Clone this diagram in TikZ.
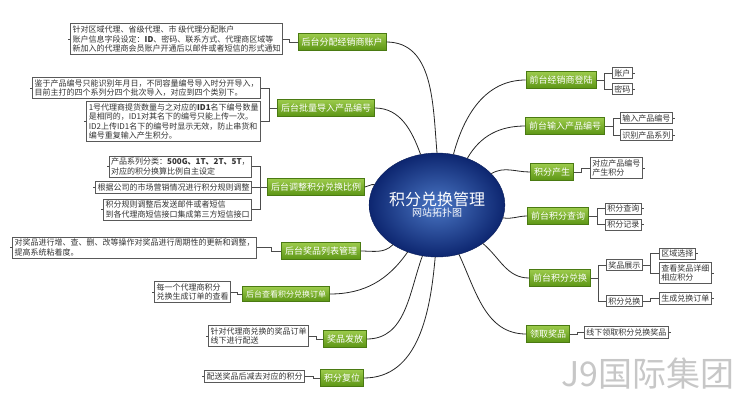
\documentclass[tikz,border=0pt]{standalone}
\usepackage{fontspec}
\setmainfont{Noto Sans CJK SC}
\usetikzlibrary{shapes.geometric}

\definecolor{leafhi}{HTML}{9CCB4C}
\definecolor{leaflo}{HTML}{5C9514}
\definecolor{leafrim}{HTML}{4A7A12}
\definecolor{hubin}{HTML}{4A76C4}
\definecolor{hubout}{HTML}{0D2670}

\tikzset{
  hub/.style={ellipse,minimum width=120,minimum height=104,inner sep=0,
    inner color=hubin,outer color=hubout,draw=hubout!80!black,text=white,align=center},
  topic/.style={draw=leafrim,line width=0.6pt,top color=leafhi,bottom color=leaflo,
    text=white,font=\fontsize{9}{10}\selectfont,inner sep=3.5pt,minimum height=17},
  note/.style={draw=black!65,line width=0.6pt,fill=white,text=black!80,align=left,
    font=\fontsize{8}{9.5}\selectfont,inner sep=2pt},
  link/.style={black!85,line width=0.8pt},
  tie/.style={black!70,line width=0.5pt}
}

\begin{document}
\begin{tikzpicture}[x=1pt,y=-1pt]
\useasboundingbox (0,0) rectangle (734,408);

% centre
\node[hub] (hub) at (437,205) {{\fontsize{16}{18}\selectfont 积分兑换管理}\\[-1pt]{\fontsize{10}{11}\selectfont 网站拓扑图}};

% left branches
\node[topic] (t1) at (342,42) {后台分配经销商账户};
\node[topic] (t2) at (326,108) {后台批量导入产品编号};
\node[topic] (t3) at (316,187) {后台调整积分兑换比例};
\node[topic] (t4) at (321,251) {后台奖品列表管理};
\node[topic,font=\fontsize{8}{9}\selectfont,minimum height=14] (t5) at (286,294) {后台查看积分兑换订单};
\node[topic] (t6) at (345,339) {奖品发放};
\node[topic] (t7) at (342,378) {积分复位};

% right branches
\node[topic] (t8) at (561,80) {前台经销商登陆};
\node[topic] (t9) at (565,126) {前台输入产品编号};
\node[topic] (t10) at (552,172) {积分产生};
\node[topic] (t11) at (558,216) {前台积分查询};
\node[topic] (t12) at (560,278) {前台积分兑换};
\node[topic] (t13) at (548,334) {领取奖品};

% left notes
\node[note,anchor=east] (n1) at (283,39) {针对区域代理、省级代理、市 级代理分配账户\\账户信息字段设定：\textbf{ID}、密码、联系方式、代理商区域等\\新加入的代理商会员账户开通后以邮件或者短信的形式通知};
\node[note,anchor=east] (n2a) at (261,88) {鉴于产品编号只能识别年月日，不同容量编号导入时分开导入，\\目前主打的四个系列分四个批次导入，对应到四个类别下。};
\node[note,anchor=east] (n2b) at (261,121.5) {1号代理商提货数量与之对应的\textbf{ID1}名下编号数量\\是相同的，ID1对其名下的编号只能上传一次。\\ID2上传ID1名下的编号时显示无效，防止串货和\\编号重复输入产生积分。};
\node[note,anchor=east] (n3a) at (252,166.5) {产品系列分类：\textbf{500G、1T、2T、5T}，\\对应的积分换算比例自主设定};
\node[note,anchor=east] (n3b) at (252,187.5) {根据公司的市场营销情况进行积分规则调整};
\node[note,anchor=east] (n3c) at (252,209.5) {积分规则调整后发送邮件或者短信\\到各代理商短信接口集成第三方短信接口};
\node[note,anchor=east] (n4) at (257,247.5) {对奖品进行增、查、删、改等操作对奖品进行周期性的更新和调整，\\提高系统粘着度。};
\node[note,anchor=east] (n5) at (231,292) {每一个代理商积分\\兑换生成订单的查看};
\node[note,anchor=east] (n6) at (309,336) {针对代理商兑换的奖品订单\\线下进行配送};
\node[note,anchor=east] (n7) at (305,376.5) {配送奖品后减去对应的积分};

% right notes
\node[note,anchor=west] (r8a) at (612,73) {账户};
\node[note,anchor=west] (r8b) at (612,89) {密码};
\node[note,anchor=west] (r9a) at (620,118) {输入产品编号};
\node[note,anchor=west] (r9b) at (620,135) {识别产品系列};
\node[note,anchor=west] (r10) at (590,168) {对应产品编号\\产生积分};
\node[note,anchor=west] (r11a) at (605,208.5) {积分查询};
\node[note,anchor=west] (r11b) at (605,224.5) {积分记录};
\node[note,anchor=west] (r12a) at (606,265) {奖品展示};
\node[note,anchor=west] (r12b) at (606,301) {积分兑换};
\node[note,anchor=west] (r12c) at (659,253.5) {区域选择};
\node[note,anchor=west] (r12d) at (659,273) {查看奖品详细\\相应积分};
\node[note,anchor=west] (r12e) at (659,298.5) {生成兑换订单};
\node[note,anchor=west] (r13) at (584,332.5) {线下领取积分兑换奖品};

% curves to the hub
\draw[link] (t1.east) to[out=0,in=95] (hub.90);
\draw[link] (t2.east) to[out=0,in=110] (hub.108);
\draw[link] (t3.east) to[out=0,in=165] (hub.162);
\draw[link] (t4.east) to[out=0,in=225] (hub.222);
\draw[link] (t5.east) to[out=0,in=235] (hub.238);
\draw[link] (t6.east) to[out=0,in=250] (hub.254);
\draw[link] (t7.east) to[out=0,in=265] (hub.268);
\draw[link] (t8.west) to[out=180,in=75] (hub.72);
\draw[link] (t9.west) to[out=180,in=60] (hub.57);
\draw[link] (t10.west) to[out=180,in=30] (hub.30);
\draw[link] (t11.west) to[out=180,in=-10] (hub.-11);
\draw[link] (t12.west) to[out=180,in=-40] (hub.-40);
\draw[link] (t13.west) to[out=180,in=-65] (hub.-66);

% brackets to the notes
\draw[tie] (t1.west) -- ++(-8,0) coordinate (j1) |- (n1.east);
\draw[tie] (t2.west) -- ++(-8,0) coordinate (j2);
\foreach \n in {n2a,n2b} \draw[tie] (j2) |- (\n.east);
\draw[tie] (t3.west) -- ++(-7,0) coordinate (j3);
\foreach \n in {n3a,n3b,n3c} \draw[tie] (j3) |- (\n.east);
\draw[tie] (t4.west) -- ++(-10,0) coordinate (j4) |- (n4.east);
\draw[tie] (t5.west) -- ++(-5,0) coordinate (j5) |- (n5.east);
\draw[tie] (t6.west) -- ++(-7,0) coordinate (j6) |- (n6.east);
\draw[tie] (t7.west) -- ++(-7,0) coordinate (j7) |- (n7.east);
\draw[tie] (t8.east) -- ++(8,0) coordinate (j8);
\foreach \n in {r8a,r8b} \draw[tie] (j8) |- (\n.west);
\draw[tie] (t9.east) -- ++(8,0) coordinate (j9);
\foreach \n in {r9a,r9b} \draw[tie] (j9) |- (\n.west);
\draw[tie] (t10.east) -- ++(7,0) coordinate (j10) |- (r10.west);
\draw[tie] (t11.east) -- ++(8,0) coordinate (j11);
\foreach \n in {r11a,r11b} \draw[tie] (j11) |- (\n.west);
\draw[tie] (t12.east) -- ++(7,0) coordinate (j12);
\foreach \n in {r12a,r12b} \draw[tie] (j12) |- (\n.west);
\draw[tie] (r12a.east) -- ++(8,0) coordinate (j12a);
\foreach \n in {r12c,r12d} \draw[tie] (j12a) |- (\n.west);
\draw[tie] (r12b.east) -- ++(8,0) coordinate (j12b) |- (r12e.west);
\draw[tie] (t13.east) -- ++(7,0) coordinate (j13) |- (r13.west);

% little stubs on the outer ends
\foreach \n in {n1,n2a,n2b,n3a,n3b,n3c,n4,n5,n6,n7} \draw[tie] (\n.west) -- ++(-2,0);
\foreach \n in {r8a,r8b,r9a,r9b,r10,r11a,r11b,r12c,r12d,r12e,r13} \draw[tie] (\n.east) -- ++(2,0);

% watermark
\node[text=black!22,font=\fontsize{34}{34}\selectfont] (mark) at (648,374) {J9国际集团};
\end{tikzpicture}
\end{document}
